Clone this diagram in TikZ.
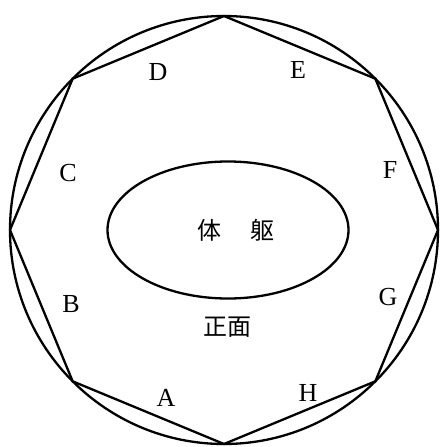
\documentclass[tikz,border=0pt]{standalone}
\usepackage{fontspec}
\setmainfont{Liberation Serif}
\newfontfamily\cjk{Noto Sans CJK SC}
\usetikzlibrary{shapes.geometric}

\begin{document}
\begin{tikzpicture}[x=1pt, y=-1pt,
    every node/.style={font=\fontsize{26}{30}\selectfont},
    outline/.style={line width=2.3pt},
    sidename/.style={inner sep=0pt},
    cjktext/.style={inner sep=0pt, font=\fontsize{24}{28}\selectfont\cjk}
]
\useasboundingbox (0,0) rectangle (439,447);
\node[circle, draw, outline, minimum size=428pt, inner sep=0pt, outer sep=0pt] (ring) at (224,230) {};
\draw[outline, line join=miter] (ring.0) -- (ring.45) -- (ring.90) -- (ring.135) -- (ring.180)
    -- (ring.225) -- (ring.270) -- (ring.315) -- cycle;
\node[ellipse, draw, outline, minimum width=241pt, minimum height=137pt, inner sep=0pt, outer sep=0pt] (trunk) at (228,230) {};
\node[cjktext] (trunkname) at (236,230) {体\hspace{1.2em}躯};
\node[cjktext] (front) at (227,327) {正面};
% side labels
\node[sidename] (sideA) at (166,398) {A};
\node[sidename] (sideB) at (71,304) {B};
\node[sidename] (sideC) at (68,173) {C};
\node[sidename] (sideD) at (158,72) {D};
\node[sidename] (sideE) at (298,70) {E};
\node[sidename] (sideF) at (390,170) {F};
\node[sidename] (sideG) at (388,297) {G};
\node[sidename] (sideH) at (308,393) {H};
\end{tikzpicture}
\end{document}
